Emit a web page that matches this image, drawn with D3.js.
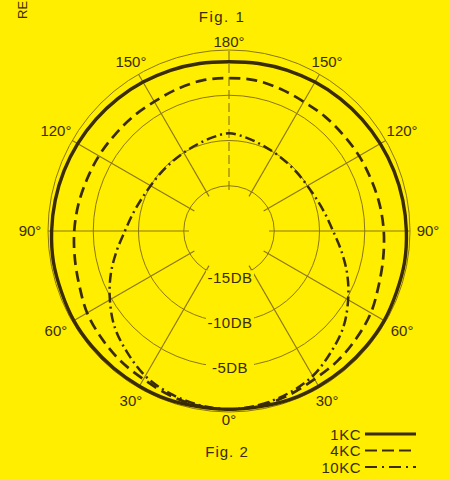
<!DOCTYPE html>
<html>
<head>
<meta charset="utf-8">
<script src="https://cdn.jsdelivr.net/npm/d3@7/dist/d3.min.js"></script>
<style>
  html, body { margin: 0; padding: 0; background: #ffee00; }
  svg { display: block; }
  text { font-family: "Liberation Sans", Arial, sans-serif; fill: #3a2c00; }
</style>
</head>
<body>
<svg id="chart" width="450" height="480"></svg>
<script>
// Polar response, angles in degrees from the front (0° at the bottom), mirrored left/right
const angles = [0, 10, 20, 30, 40, 50, 60, 70, 80, 90, 100, 110, 120, 130, 140, 150, 160, 170, 180];

// Relative response in dB for each angle
const kc1  = [-0.3, -0.3, -0.2, -0.2, -0.2, -0.2, -0.2, -0.3, -0.3, -0.4, -0.5, -0.6, -0.7, -0.8, -0.9, -1.0, -1.1, -1.2, -1.3];
const kc4  = [-0.3, -0.4, -0.7, -1.1, -1.3, -1.6, -1.9, -2.4, -2.7, -2.9, -3.1, -3.3, -3.4, -3.5, -3.5, -3.5, -3.3, -3.1, -3.1];
const kc10 = [-0.3, -0.5, -0.9, -1.5, -2.5, -3.5, -4.8, -6.1, -7.4, -8.5, -9.2, -9.7, -10.0, -10.1, -10.1, -10.0, -9.8, -9.5, -9.2];

// Grid
const ringDb = [-15, -10, -5, 0];
const ringLabels = ["-15DB", "-10DB", "-5DB"];
const spokeAngles = [30, 60, 90, 120, 150];
const angleLabels = [0, 30, 60, 90, 120, 150, 180];

const seriesNames = ["1KC", "4KC", "10KC"];

const svg = d3.select("#chart");
const cx = 229, cy = 231;
const ink = "#3a2c00";
const grid = "#8a7612";

const r = d3.scaleLinear().domain([-20, 0]).range([0, 181]);

// Screen angle (radians, clockwise from 12 o'clock) for a response angle on one side
const toRad = (deg, side) => Math.PI - side * deg * Math.PI / 180;

const g = svg.append("g").attr("transform", `translate(${cx},${cy})`);

// Rings
g.selectAll("circle.ring").data(ringDb).join("circle")
  .attr("class", "ring")
  .attr("r", d => r(d))
  .attr("fill", "none")
  .attr("stroke", grid)
  .attr("stroke-width", 1);

// Spokes
const spokes = [];
spokeAngles.forEach(a => { spokes.push(toRad(a, 1)); spokes.push(toRad(a, -1)); });
g.selectAll("line.spoke").data(spokes).join("line")
  .attr("class", "spoke")
  .attr("x1", d => 40 * Math.sin(d))
  .attr("y1", d => -40 * Math.cos(d))
  .attr("x2", d => r(0) * Math.sin(d))
  .attr("y2", d => -r(0) * Math.cos(d))
  .attr("stroke", grid)
  .attr("stroke-width", 1.1);

// Rear axis (180°)
g.append("line")
  .attr("x1", 0).attr("y1", -41)
  .attr("x2", 0).attr("y2", -r(0))
  .attr("stroke", grid)
  .attr("stroke-width", 1.1)
  .attr("stroke-dasharray", "9,4");

// Response curves
function closedPoints(values) {
  const pts = [];
  angles.forEach((a, i) => pts.push([toRad(a, 1), r(values[i])]));
  for (let i = angles.length - 2; i >= 1; i--) pts.push([toRad(angles[i], -1), r(values[i])]);
  return pts;
}
const radial = d3.lineRadial()
  .angle(d => d[0])
  .radius(d => d[1])
  .curve(d3.curveCatmullRomClosed.alpha(0.5));

const styles = [
  { data: kc1,  width: 3.4, dash: null },
  { data: kc4,  width: 2.7, dash: "11,6" },
  { data: kc10, width: 2.5, dash: "10,4,2,4" }
];
styles.forEach(s => {
  g.append("path")
    .attr("d", radial(closedPoints(s.data)))
    .attr("fill", "none")
    .attr("stroke", ink)
    .attr("stroke-width", s.width)
    .attr("stroke-dasharray", s.dash)
    .attr("stroke-linecap", "butt");
});

// Ring labels sit on the front axis, masking the ring behind them
ringLabels.forEach((t, i) => {
  const y = r(ringDb[i]);
  const lbl = g.append("g").attr("transform", `translate(1,${y + 1})`);
  lbl.append("rect")
    .attr("x", -24).attr("y", -7).attr("width", 48).attr("height", 14)
    .attr("fill", "#ffee00");
  lbl.append("text")
    .attr("text-anchor", "middle")
    .attr("dy", "0.36em")
    .attr("font-size", 15)
    .attr("letter-spacing", 0.5)
    .text(t);
});

// Angle labels around the outside
const halfW = 16, halfH = 6, gap = 183;
const labelPos = [];
angleLabels.forEach(a => {
  const sides = (a === 0 || a === 180) ? [1] : [1, -1];
  sides.forEach(s => labelPos.push({ a, rad: toRad(a, s) }));
});
g.selectAll("text.ang").data(labelPos).join("text")
  .attr("class", "ang")
  .attr("text-anchor", "middle")
  .attr("dy", "0.36em")
  .attr("font-size", 15)
  .attr("x", d => {
    const sx = Math.sin(d.rad), sy = -Math.cos(d.rad);
    const rr = gap + Math.abs(sx) * halfW + Math.abs(sy) * halfH;
    return rr * sx;
  })
  .attr("y", d => {
    const sx = Math.sin(d.rad), sy = -Math.cos(d.rad);
    const rr = gap + Math.abs(sx) * halfW + Math.abs(sy) * halfH;
    return rr * sy;
  })
  .text(d => d.a + "°");

// Titles
svg.append("text")
  .attr("x", 222).attr("y", 22)
  .attr("text-anchor", "middle")
  .attr("font-size", 15)
  .attr("letter-spacing", 1.5)
  .text("Fig. 1");
svg.append("text")
  .attr("x", 227).attr("y", 457)
  .attr("text-anchor", "middle")
  .attr("font-size", 15)
  .attr("letter-spacing", 1)
  .text("Fig. 2");
svg.append("text")
  .attr("transform", "translate(27,19) rotate(-90)")
  .attr("font-size", 13)
  .text("RE");

// Legend
const legend = svg.append("g");
seriesNames.forEach((name, i) => {
  const y = 434 + i * 16.5;
  legend.append("text")
    .attr("x", 361).attr("y", y + 5.5)
    .attr("text-anchor", "end")
    .attr("font-size", 15)
    .attr("letter-spacing", 0.5)
    .text(name);
  legend.append("line")
    .attr("x1", 365).attr("x2", 416)
    .attr("y1", y).attr("y2", y)
    .attr("stroke", ink)
    .attr("stroke-width", styles[i].width - 0.6)
    .attr("stroke-dasharray", i === 1 ? "12,5" : (i === 2 ? "12,5,2,5" : null));
});
</script>
</body>
</html>
